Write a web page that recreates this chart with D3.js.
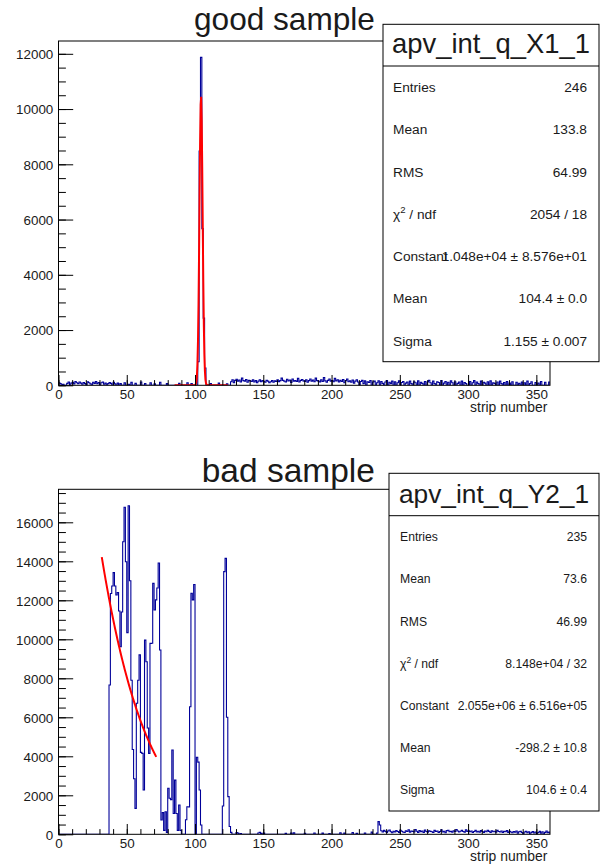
<!DOCTYPE html>
<html>
<head>
<meta charset="utf-8">
<script src="https://cdn.jsdelivr.net/npm/d3@7"></script>
<style>
  body { margin: 0; background: #fff; }
  svg { font-family: "Liberation Sans", Arial, Helvetica, sans-serif; }
</style>
</head>
<body>
<div id="chart"></div>
<script>
// ---------------------------------------------------------
// DATA
// ---------------------------------------------------------

// histogram binning: 360 strips, one bin per strip
var xMin = 0;
var xMax = 360;

// bin contents, 20 bins per row
var goodCounts = [
  90, 60, 0, 40, 0, 0, 70, 120, 0, 80, 110, 50, 140, 90, 60, 120, 80, 40, 100, 60,
  0, 130, 90, 50, 0, 110, 70, 140, 60, 100, 0, 90, 120, 40, 80, 0, 60, 100, 70, 0,
  110, 50, 0, 80, 0, 60, 0, 0, 90, 0, 0, 40, 0, 110, 0, 0, 70, 0, 0, 0,
  120, 0, 0, 60, 0, 0, 0, 90, 0, 0, 50, 0, 0, 0, 110, 0, 0, 0, 0, 60,
  0, 0, 0, 0, 0, 0, 0, 0, 70, 0, 0, 0, 0, 0, 90, 0, 0, 60, 0, 0,
  0, 0, 850, 8480, 11870, 5670, 2430, 620, 0, 0, 0, 60, 0, 0, 0, 0, 0, 80, 0, 0,
  0, 0, 0, 50, 0, 0, 130, 200, 90, 180, 220, 150, 190, 120, 260, 170, 150, 210, 110, 180,
  160, 140, 200, 120, 170, 90, 150, 200, 130, 170, 140, 110, 180, 150, 90, 130, 170, 110, 160, 140,
  200, 130, 170, 260, 180, 150, 120, 220, 160, 190, 100, 230, 150, 170, 140, 250, 120, 180, 210, 160,
  140, 200, 110, 170, 230, 150, 190, 130, 260, 170, 150, 120, 200, 140, 280, 160, 110, 180, 230, 150,
  170, 130, 250, 160, 200, 120, 180, 140, 210, 90, 170, 230, 130, 160, 110, 190, 80, 150, 200, 120,
  0, 140, 180, 60, 160, 0, 130, 100, 170, 0, 120, 150, 0, 90, 160, 0, 140, 70, 0, 120,
  170, 0, 110, 60, 150, 0, 130, 0, 90, 160, 0, 100, 140, 0, 80, 120, 0, 150, 60, 0,
  130, 90, 0, 160, 0, 110, 70, 0, 140, 0, 120, 180, 90, 0, 150, 60, 0, 130, 100, 0,
  170, 0, 80, 140, 0, 110, 0, 160, 90, 0, 130, 0, 70, 120, 0, 150, 0, 100, 60, 0,
  0, 140, 0, 90, 170, 0, 120, 60, 0, 150, 0, 110, 80, 0, 130, 0, 160, 0, 90, 70,
  0, 120, 0, 150, 60, 0, 100, 0, 140, 0, 80, 0, 130, 0, 0, 110, 0, 70, 0, 120,
  0, 90, 0, 150, 0, 60, 130, 0, 0, 100, 0, 80, 0, 140, 0, 0, 110, 0, 0, 120
];

var badCounts = [
  0, 0, 0, 0, 0, 0, 0, 0, 0, 0, 0, 0, 0, 0, 0, 0, 0, 0, 0, 0,
  0, 0, 0, 0, 0, 0, 0, 0, 0, 0, 0, 0, 0, 0, 0, 0, 0, 7660, 12350, 12730,
  13420, 12730, 12270, 12400, 11450, 9620, 11400, 15000, 16770, 13980, 10340, 16850, 13000, 7900, 4350, 2850, 1330, 6720, 7900, 9200,
  4200, 4150, 2270, 9960, 8850, 5450, 4150, 9790, 9800, 12870, 11500, 12020, 12630, 13910, 9450, 730, 1110, 200, 1160, 100,
  2360, 1850, 1780, 4320, 1070, 2780, 1070, 200, 1500, 200, 0, 0, 0, 750, 1410, 1400, 6540, 12360, 12020, 12810,
  0, 3950, 3700, 2270, 480, 0, 0, 0, 0, 0, 0, 0, 0, 0, 0, 0, 0, 0, 0, 0,
  1450, 13470, 14150, 6000, 1930, 400, 100, 0, 0, 0, 90, 60, 0, 40, 0, 0, 0, 0, 0, 0,
  0, 0, 0, 0, 0, 0, 70, 100, 50, 0, 60, 0, 0, 0, 0, 0, 0, 0, 0, 0,
  0, 0, 0, 0, 0, 0, 50, 0, 0, 0, 60, 0, 80, 0, 0, 0, 0, 0, 0, 0,
  50, 0, 0, 0, 0, 0, 0, 70, 0, 0, 0, 0, 0, 60, 0, 0, 0, 0, 40, 0,
  0, 0, 0, 0, 0, 0, 80, 0, 0, 60, 0, 0, 0, 0, 0, 90, 0, 0, 50, 0,
  0, 0, 0, 0, 70, 0, 0, 0, 0, 110, 0, 0, 0, 60, 650, 480, 180, 120, 200, 150,
  100, 170, 220, 130, 80, 160, 120, 190, 140, 100, 210, 160, 120, 90, 180, 140, 230, 110, 170, 150,
  120, 240, 160, 100, 190, 130, 170, 90, 220, 140, 110, 180, 150, 130, 100, 200, 150, 170, 90, 140,
  230, 120, 160, 80, 190, 210, 130, 150, 110, 180, 140, 250, 170, 120, 160, 200, 140, 110, 230, 150,
  180, 130, 170, 90, 140, 200, 120, 160, 110, 190, 140, 100, 170, 130, 210, 150, 90, 180, 130, 160,
  110, 200, 140, 120, 170, 90, 150, 130, 190, 100, 160, 120, 80, 140, 110, 170, 60, 130, 150, 90,
  0, 120, 160, 80, 130, 0, 100, 140, 70, 120, 0, 90, 150, 60, 130, 0, 100, 170, 80, 110
];

// gaussian fit parameters [constant, mean, sigma] and fit ranges
var goodFit = [1.048e4, 104.4, 1.155];
var goodFitRange = [85, 124];
var badFit = [2.055e6, -298.2, 104.6];
var badFitRange = [31.7, 71.6];

// tick labels
var xTicks = [0, 50, 100, 150, 200, 250, 300, 350];
var goodYTicks = [0, 2000, 4000, 6000, 8000, 10000, 12000];
var badYTicks = [0, 2000, 4000, 6000, 8000, 10000, 12000, 14000, 16000];

// titles and stats boxes
var goodTitle = "good sample";
var badTitle = "bad sample";
var goodStatsName = "apv_int_q_X1_1";
var badStatsName = "apv_int_q_Y2_1";
var statLabels = ["Entries", "Mean", "RMS", "chi2", "Constant", "Mean", "Sigma"];
var goodStatValues = ["246", "133.8", "64.99", "2054 / 18", "1.048e+04 \u00b1 8.576e+01", "104.4 \u00b1 0.0", "1.155 \u00b1 0.007"];
var badStatValues = ["235", "73.6", "46.99", "8.148e+04 / 32", "2.055e+06 \u00b1 6.516e+05", "-298.2 \u00b1 10.8", "104.6 \u00b1 0.4"];
var xAxisTitle = "strip number";

// ---------------------------------------------------------
// SET UP
// ---------------------------------------------------------

var svgWidth = 600;
var svgHeight = 865;

var svg = d3.select("#chart")
  .append("svg")
  .attr("width", svgWidth)
  .attr("height", svgHeight);

var histColor = "#000099";
var textColor = "#1a1a1a";
var intFormat = d3.format("d");

// ---------------------------------------------------------
// DRAW ONE PANEL
// ---------------------------------------------------------

function drawPanel(p) {
  var f = p.frame;

  var x = d3.scaleLinear().domain([xMin, xMax]).range([f.left, f.right]);
  var yMax = d3.max(p.counts) * 1.05;
  var y = d3.scaleLinear().domain([0, yMax]).range([f.bottom, f.top]);

  var clipId = "clip-" + p.id;
  svg.append("clipPath").attr("id", clipId)
    .append("rect")
    .attr("x", f.left).attr("y", f.top)
    .attr("width", f.right - f.left).attr("height", f.bottom - f.top);

  // histogram outline
  var pts = [[xMin, 0]];
  p.counts.forEach(function(c, i) { pts.push([xMin + i, c]); });
  pts.push([xMax, p.counts[p.counts.length - 1]]);
  pts.push([xMax, 0]);

  var step = d3.line()
    .x(d => x(d[0]))
    .y(d => y(d[1]))
    .curve(d3.curveStepAfter);

  svg.append("path")
    .attr("d", step(pts))
    .attr("fill", "none")
    .attr("stroke", histColor)
    .attr("stroke-width", 1.1)
    .attr("clip-path", "url(#" + clipId + ")");

  // fit curve (100 points, like ROOT)
  var fit = p.fit;
  var fx = d3.range(0, 101).map(k => p.fitRange[0] + (p.fitRange[1] - p.fitRange[0]) * k / 100);
  var gaus = d3.line()
    .x(d => x(d))
    .y(d => y(fit[0] * Math.exp(-0.5 * Math.pow((d - fit[1]) / fit[2], 2))));

  svg.append("path")
    .attr("d", gaus(fx))
    .attr("fill", "none")
    .attr("stroke", "#ff0000")
    .attr("stroke-width", 2)
    .attr("clip-path", "url(#" + clipId + ")");

  // axes: ROOT style ticks pointing into the frame
  var fontSize = 13.4;

  var yMajor = svg.append("g")
    .attr("transform", `translate(${f.left}, 0)`)
    .call(d3.axisRight(y).tickValues(p.yTicks).tickFormat(intFormat).tickSize(14.7).tickSizeOuter(0));
  yMajor.select(".domain").remove();
  yMajor.selectAll("text")
    .attr("x", -5.2)
    .attr("dy", "0.36em")
    .attr("text-anchor", "end")
    .attr("font-size", fontSize)
    .attr("fill", textColor);

  var yMinor = svg.append("g")
    .attr("transform", `translate(${f.left}, 0)`)
    .call(d3.axisRight(y).tickValues(d3.range(0, yMax, 500)).tickSize(7.4).tickSizeOuter(0).tickFormat(""));
  yMinor.select(".domain").remove();

  var xMajor = svg.append("g")
    .attr("transform", `translate(0, ${f.bottom})`)
    .call(d3.axisTop(x).tickValues(xTicks).tickFormat(intFormat).tickSize(10.3).tickSizeOuter(0));
  xMajor.select(".domain").remove();
  xMajor.selectAll("text")
    .attr("y", 13.3)
    .attr("dy", 0)
    .attr("font-size", fontSize)
    .attr("fill", textColor);

  var xMinor = svg.append("g")
    .attr("transform", `translate(0, ${f.bottom})`)
    .call(d3.axisTop(x).tickValues(d3.range(0, xMax, 10)).tickSize(5.2).tickSizeOuter(0).tickFormat(""));
  xMinor.select(".domain").remove();

  svg.selectAll(".tick line").attr("stroke", "#000");

  // frame
  svg.append("rect")
    .attr("x", f.left).attr("y", f.top)
    .attr("width", f.right - f.left).attr("height", f.bottom - f.top)
    .attr("fill", "none")
    .attr("stroke", "#000")
    .attr("stroke-width", 1);

  // x axis title
  svg.append("text")
    .attr("x", 547.3)
    .attr("y", p.axisTitleY)
    .attr("text-anchor", "end")
    .attr("font-size", 13.9)
    .attr("fill", textColor)
    .text(xAxisTitle);

  // histogram title
  svg.append("text")
    .attr("x", p.title.x)
    .attr("y", p.title.y)
    .attr("font-size", p.title.size)
    .attr("fill", textColor)
    .text(p.title.text);

  // stats box
  var s = p.stats;
  svg.append("rect")
    .attr("x", s.x0).attr("y", s.y0)
    .attr("width", s.x1 - s.x0).attr("height", s.y1 - s.y0)
    .attr("fill", "#fff")
    .attr("stroke", "#000")
    .attr("stroke-width", 1);
  svg.append("line")
    .attr("x1", s.x0).attr("x2", s.x1)
    .attr("y1", s.ySep).attr("y2", s.ySep)
    .attr("stroke", "#000");

  svg.append("text")
    .attr("x", (s.x0 + s.x1) / 2)
    .attr("y", s.titleY)
    .attr("text-anchor", "middle")
    .attr("font-size", s.titleSize)
    .attr("fill", textColor)
    .text(s.name);

  var rowH = (s.y1 - s.ySep) / statLabels.length;
  statLabels.forEach(function(lab, i) {
    var cy = s.ySep + rowH * (i + 0.5) + s.fs * 0.36;
    var t = svg.append("text")
      .attr("x", s.labelX)
      .attr("y", cy)
      .attr("font-size", s.fs)
      .attr("fill", textColor);
    if (lab === "chi2") {
      t.append("tspan").text("\u03c7");
      t.append("tspan").attr("font-size", s.fs * 0.7).attr("dy", -s.fs * 0.4).text("2");
      t.append("tspan").attr("dy", s.fs * 0.4).text(" / ndf");
    } else {
      t.text(lab);
    }
    svg.append("text")
      .attr("x", s.valueX)
      .attr("y", cy)
      .attr("text-anchor", "end")
      .attr("font-size", s.fs)
      .attr("fill", textColor)
      .text(p.statValues[i]);
  });
}

// ---------------------------------------------------------
// BUILD BOTH PANELS
// ---------------------------------------------------------

drawPanel({
  id: "good",
  counts: goodCounts,
  fit: goodFit,
  fitRange: goodFitRange,
  yTicks: goodYTicks,
  statValues: goodStatValues,
  frame: { left: 58.5, right: 550, top: 41, bottom: 385.3 },
  axisTitleY: 412,
  title: { text: goodTitle, x: 194, y: 30, size: 31.6 },
  stats: { name: goodStatsName, x0: 383, x1: 599, y0: 24.3, ySep: 66, y1: 361.7,
           titleY: 53.3, titleSize: 27.4, fs: 13.7, labelX: 393, valueX: 587 }
});

drawPanel({
  id: "bad",
  counts: badCounts,
  fit: badFit,
  fitRange: badFitRange,
  yTicks: badYTicks,
  statValues: badStatValues,
  frame: { left: 58.5, right: 550, top: 489.3, bottom: 834.3 },
  axisTitleY: 860.5,
  title: { text: badTitle, x: 201.7, y: 482.3, size: 33.5 },
  stats: { name: badStatsName, x0: 389, x1: 599, y0: 473.3, ySep: 515.7, y1: 811,
           titleY: 503.3, titleSize: 26.3, fs: 12.2, labelX: 400, valueX: 587 }
});
</script>
</body>
</html>
